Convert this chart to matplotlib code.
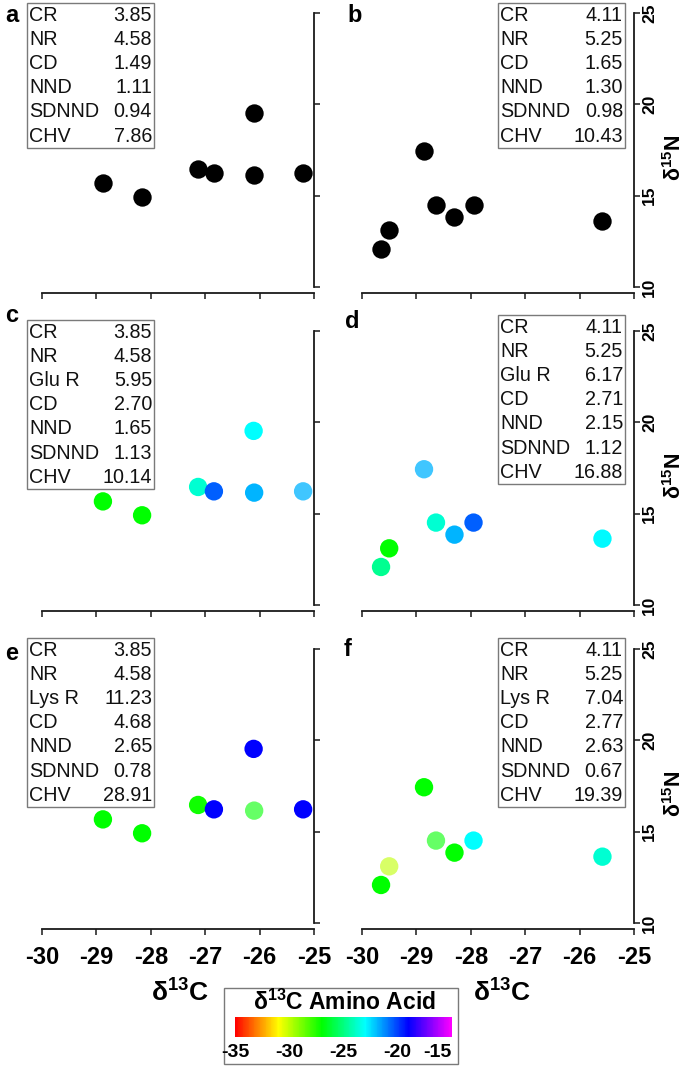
import matplotlib
matplotlib.use("Agg")
import matplotlib.pyplot as plt
from matplotlib.colors import LinearSegmentedColormap, Normalize
from matplotlib.cm import ScalarMappable
from matplotlib.patches import Rectangle
from matplotlib import font_manager

# ---------------- data ----------------
d13c_left = [-28.88, -28.16, -27.13, -26.84, -26.11, -26.10, -25.20]
d15n_left = [15.67, 14.91, 16.46, 16.22, 19.53, 16.15, 16.22]
d13c_right = [-29.65, -29.50, -28.86, -28.64, -28.30, -27.95, -25.58]
d15n_right = [12.08, 13.10, 17.43, 14.51, 13.85, 14.51, 13.63]

glu_left = [-27.0, -27.0, -23.7, -20.5, -23.0, -21.8, -21.8]
glu_right = [-24.7, -27.0, -21.8, -23.7, -21.8, -20.5, -22.9]
lys_left = [-27.0, -27.0, -27.2, -19.0, -19.0, -27.0, -19.0]
lys_right = [-27.0, -30.0, -27.0, -27.0, -27.0, -23.0, -23.7]

labels_a = ["CR", "NR", "CD", "NND", "SDNND", "CHV"]
values_a = ["3.85", "4.58", "1.49", "1.11", "0.94", "7.86"]
labels_b = ["CR", "NR", "CD", "NND", "SDNND", "CHV"]
values_b = ["4.11", "5.25", "1.65", "1.30", "0.98", "10.43"]
labels_c = ["CR", "NR", "Glu R", "CD", "NND", "SDNND", "CHV"]
values_c = ["3.85", "4.58", "5.95", "2.70", "1.65", "1.13", "10.14"]
labels_d = ["CR", "NR", "Glu R", "CD", "NND", "SDNND", "CHV"]
values_d = ["4.11", "5.25", "6.17", "2.71", "2.15", "1.12", "16.88"]
labels_e = ["CR", "NR", "Lys R", "CD", "NND", "SDNND", "CHV"]
values_e = ["3.85", "4.58", "11.23", "4.68", "2.65", "0.78", "28.91"]
labels_f = ["CR", "NR", "Lys R", "CD", "NND", "SDNND", "CHV"]
values_f = ["4.11", "5.25", "7.04", "2.77", "2.63", "0.67", "19.39"]

x_ticks = [-30, -29, -28, -27, -26, -25]
y_ticks = [10, 15, 20, 25]
cbar_ticks = [-35, -30, -25, -20, -15]

# ---------------- style ----------------
W, H, DPI = 685, 1068, 100
names = {f.name for f in font_manager.fontManager.ttflist}
NARROW = "Liberation Sans Narrow" if "Liberation Sans Narrow" in names else "Liberation Sans"

plt.rcParams["font.family"] = ["Liberation Sans", "DejaVu Sans"]
plt.rcParams["mathtext.fontset"] = "custom"
plt.rcParams["mathtext.rm"] = "Liberation Sans:bold"
plt.rcParams["mathtext.it"] = "Liberation Sans:bold"
plt.rcParams["mathtext.bf"] = "Liberation Sans:bold"

cmap = LinearSegmentedColormap.from_list(
    "aa", ["#ff0000", "#ffff00", "#00ff00", "#00ffff", "#0000ff", "#ff00ff"])
norm = Normalize(-35, -15)

# faded points (style only): panel -> {index: alpha}
faded = {"c": {6: 0.75}, "d": {2: 0.75}, "e": {5: 0.6}, "f": {1: 0.6, 3: 0.6}}

fig = plt.figure(figsize=(W / DPI, H / DPI), dpi=DPI)


def fx(x):
    return x / W


def fy(y):
    return 1 - y / H


def px_rect(left, top, right, bottom):
    return [left / W, 1 - bottom / H, (right - left) / W, (bottom - top) / H]


panels = [
    ("a", 0, 0, d13c_left, d15n_left, None, labels_a, values_a),
    ("b", 0, 1, d13c_right, d15n_right, None, labels_b, values_b),
    ("c", 1, 0, d13c_left, d15n_left, glu_left, labels_c, values_c),
    ("d", 1, 1, d13c_right, d15n_right, glu_right, labels_d, values_d),
    ("e", 2, 0, d13c_left, d15n_left, lys_left, labels_e, values_e),
    ("f", 2, 1, d13c_right, d15n_right, lys_right, labels_f, values_f),
]

col_left = [25, 345]
col_right = [314, 634]
row_pitch = 318
box_left = [27, 498]
box_top = {"a": 3, "b": 3, "c": 320, "d": 315, "e": 638, "f": 638}
letter_pos = {"a": (12, 15), "b": (355, 15), "c": (12, 315),
              "d": (352, 322), "e": (12, 653), "f": (348, 650)}
AX_COL = "#1a1a1a"

for key, r, c, xs, ys, cv, labs, vals in panels:
    top = 2 + row_pitch * r
    bottom = 293 + row_pitch * r
    ax = fig.add_axes(px_rect(col_left[c], top, col_right[c], bottom))
    ax.set_xlim(-30.3125, -25.0)
    ax.set_ylim(9.67, 25.6)
    ax.patch.set_visible(False)
    for s in ("left", "top"):
        ax.spines[s].set_visible(False)
    ax.spines["right"].set_bounds(10, 25)
    ax.spines["bottom"].set_bounds(-30, -25)
    for s in ("right", "bottom"):
        ax.spines[s].set_color(AX_COL)
        ax.spines[s].set_linewidth(1.3)
    ax.yaxis.tick_right()
    ax.set_xticks(x_ticks)
    ax.set_yticks(y_ticks)
    ax.tick_params(direction="out", length=4.5, width=1.1, colors=AX_COL)
    if r == 2:
        ax.set_xticklabels([str(t) for t in x_ticks], fontfamily=NARROW,
                           fontweight="bold", fontsize=17, color="black")
        ax.tick_params(axis="x", pad=8)
    else:
        ax.set_xticklabels([])
    if c == 1:
        ax.set_yticklabels([str(t) for t in y_ticks], rotation=90,
                           fontweight="bold", fontsize=12.5, color="black",
                           va="center")
        ax.tick_params(axis="y", pad=1.5)
    else:
        ax.set_yticklabels([])

    if cv is None:
        ax.scatter(xs, ys, s=175, c="black", linewidths=0, zorder=3, clip_on=False)
    else:
        rgba = cmap(norm(cv))
        for i, a in faded.get(key, {}).items():
            rgba[i, 3] = a
        ax.scatter(xs, ys, s=175, c=rgba, linewidths=0, zorder=3, clip_on=False)

    # stats box
    n = len(labs)
    bl = box_left[c]
    bt = box_top[key]
    bw = 127
    rh = 24.1
    bh = rh * n
    fig.add_artist(Rectangle((fx(bl), fy(bt + bh)), bw / W, bh / H,
                             transform=fig.transFigure, facecolor="white",
                             edgecolor="#7a7a7a", linewidth=1.0, zorder=5))
    for i, (lb, vl) in enumerate(zip(labs, vals)):
        yc = bt + rh * (i + 0.5) + 0.5
        fig.text(fx(bl + 2), fy(yc), lb, ha="left", va="center",
                 fontsize=14.2, color="#111111", zorder=6)
        fig.text(fx(bl + bw - 2), fy(yc), vl, ha="right", va="center",
                 fontsize=14.2, color="#111111", zorder=6)

    # panel letter
    lx, ly = letter_pos[key]
    fig.text(fx(lx), fy(ly), key, ha="center", va="center",
             fontsize=17, fontweight="bold")

    # y label on right panels
    if c == 1:
        fig.text(fx(675), fy(158 + row_pitch * r), r"δ$^{15}$N", rotation=90,
                 ha="center", va="center", fontsize=15.5, fontweight="bold")

# x labels
fig.text(fx(180), fy(993), r"δ$^{13}$C", ha="center", va="center",
         fontsize=19, fontweight="bold")
fig.text(fx(502), fy(993), r"δ$^{13}$C", ha="center", va="center",
         fontsize=19, fontweight="bold")

# colour legend
fig.add_artist(Rectangle((fx(224), fy(1064)), (458 - 224) / W, (1064 - 988) / H,
                         transform=fig.transFigure, facecolor="white",
                         edgecolor="#7a7a7a", linewidth=1.0, zorder=-1))
fig.text(fx(344), fy(1002), r"δ$^{13}$C Amino Acid", ha="center", va="center",
         fontsize=16.5, fontweight="bold", zorder=2)
cax = fig.add_axes(px_rect(235, 1017, 452, 1037))
cax.set_zorder(3)
cb = fig.colorbar(ScalarMappable(norm=norm, cmap=cmap), cax=cax,
                  orientation="horizontal")
cb.outline.set_visible(False)
cb.set_ticks(cbar_ticks)
cb.set_ticklabels([str(t) for t in cbar_ticks])
cax.tick_params(length=0, pad=5)
for t in cax.get_xticklabels():
    t.set_fontfamily(NARROW)
    t.set_fontweight("bold")
    t.set_fontsize(14)
labs_cb = cax.get_xticklabels()
labs_cb[-1].set_horizontalalignment("right")
labs_cb[0].set_horizontalalignment("center")

fig.savefig("out.png", dpi=DPI)
